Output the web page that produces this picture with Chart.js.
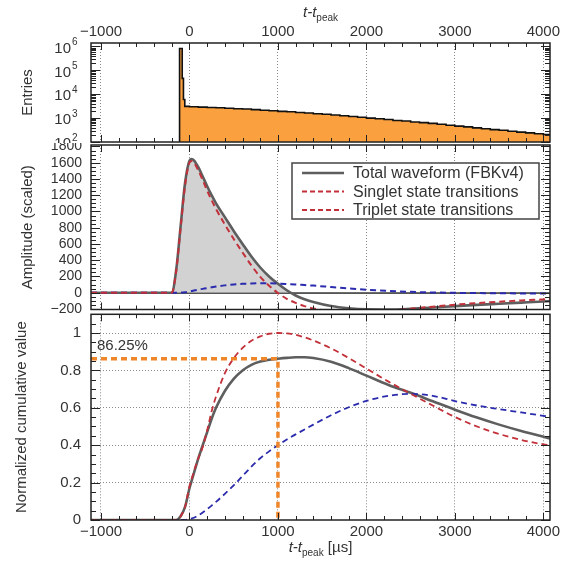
<!DOCTYPE html>
<html>
<head>
<meta charset="utf-8">
<script src="https://cdn.jsdelivr.net/npm/chart.js@4.4.1/dist/chart.umd.min.js"></script>
<style>
  body { margin: 0; background: #fff; }
  #wrap { position: relative; width: 562px; height: 573px; }
  canvas { position: absolute; left: 0; }
</style>
</head>
<body>
<div id="wrap">
  <canvas id="entries" width="562" height="143" style="top:0;width:562px;height:143px"></canvas>
  <canvas id="amplitude" width="562" height="170" style="top:143px;width:562px;height:170px"></canvas>
  <canvas id="cumulative" width="562" height="260" style="top:313px;width:562px;height:260px"></canvas>
</div>
<script>
// time axis shared by the three panels
const tMin = -1113, tMax = 4075;
const timeTicks = [-1000, 0, 1000, 2000, 3000, 4000];

// histogram of peak times (bin left edges, entries); 1 = empty bin below the axis floor
const histEdges = [-1113, -112, -82, -68, -53, 0, 100, 200, 300, 400, 500, 600, 700, 800, 900,
  1000, 1100, 1200, 1300, 1400, 1500, 1600, 1700, 1800, 1900, 2000, 2100, 2200, 2300, 2400,
  2500, 2600, 2700, 2800, 2900, 3000, 3100, 3200, 3300, 3400, 3500, 3600, 3700, 3800, 3900, 4000, 4075];
const histCounts = [1, 820000, 46000, 6000, 3100, 3000, 2900, 2780, 2700, 2600, 2480, 2400, 2280, 2150, 2050,
  1920, 1850, 1720, 1640, 1530, 1450, 1350, 1260, 1170, 1090, 1000, 940, 870, 800, 760,
  690, 650, 600, 550, 500, 460, 430, 390, 360, 330, 310, 280, 260, 240, 220, 205, 205];
const decades = [2, 3, 4, 5, 6];

// waveform samples
const sampleTime = [-1113, -200, -150, -100, -50, 0, 25, 50, 100, 150, 200, 250, 300, 400, 500, 600, 700, 800, 900,
  1000, 1100, 1200, 1300, 1400, 1600, 1800, 2000, 2250, 2500, 2750, 3000, 3250, 3500, 3750, 4000, 4075];
const totalAmp = [0, 0, 280, 820, 1350, 1625, 1645, 1630, 1545, 1430, 1310, 1200, 1100, 930, 760, 600, 445, 310, 200,
  110, 30, -35, -80, -115, -165, -192, -205, -207, -198, -183, -166, -150, -136, -122, -108, -104];
const singletAmp = [0, 0, 270, 800, 1320, 1600, 1620, 1600, 1505, 1385, 1255, 1140, 1030, 840, 660, 495, 335, 195, 85,
  -5, -75, -125, -165, -195, -232, -246, -242, -222, -198, -172, -148, -128, -111, -96, -83, -79];
const tripletAmp = [0, 0, 0, 1, 6, 15, 20, 26, 37, 47, 57, 66, 75, 90, 101, 109, 114, 116, 115,
  112, 107, 101, 94, 87, 70, 53, 37, 22, 10, 3, -2, -5, -7, -9, -10, -10];
const ampTicks = [-200, 0, 200, 400, 600, 800, 1000, 1200, 1400, 1600, 1800];

const totalCum = [0, 0, 0, 0.02, 0.07, 0.17, 0.21, 0.25, 0.33, 0.4, 0.47, 0.54, 0.6, 0.69, 0.755, 0.8, 0.83, 0.847, 0.857,
  0.8625, 0.867, 0.87, 0.87, 0.866, 0.846, 0.812, 0.772, 0.722, 0.68, 0.635, 0.59, 0.548, 0.51, 0.476, 0.445, 0.436];
const singletCum = [0, 0, 0, 0.02, 0.07, 0.18, 0.22, 0.26, 0.33, 0.39, 0.48, 0.58, 0.66, 0.785, 0.865, 0.92, 0.958, 0.982, 0.996,
  1.0, 0.998, 0.99, 0.977, 0.96, 0.918, 0.866, 0.81, 0.74, 0.675, 0.612, 0.551, 0.5, 0.46, 0.428, 0.405, 0.4];
const tripletCum = [0, 0, 0, 0, 0, 0.005, 0.008, 0.012, 0.025, 0.04, 0.058, 0.077, 0.097, 0.14, 0.185, 0.235, 0.285, 0.33, 0.367,
  0.4, 0.43, 0.458, 0.484, 0.51, 0.56, 0.603, 0.637, 0.664, 0.675, 0.664, 0.636, 0.612, 0.593, 0.575, 0.557, 0.551];
const cumTicks = [0, 0.2, 0.4, 0.6, 0.8, 1];

// fraction collected at the 1000 us cut
const cutTime = 1000;
const cutFraction = 0.8625;

const labels = ['Total waveform (FBKv4)', 'Singlet state transitions', 'Triplet state transitions'];

const GRAY = '#5e5e5e', RED = '#c2303a', BLUE = '#2b2bae', ORANGE = '#f0862a', TXT = '#333';

Chart.defaults.font.family = '"Liberation Sans", Arial, sans-serif';
Chart.defaults.color = TXT;
Chart.defaults.animation = false;
Chart.defaults.responsive = false;
Chart.defaults.elements.point.radius = 0;
Chart.defaults.plugins.legend.display = false;
Chart.defaults.plugins.tooltip.enabled = false;

const pts = (xs, ys) => xs.map((x, i) => ({ x: x, y: ys[i] }));
const minus = v => (v < 0 ? '\u2212' + Math.abs(v) : String(v));

// keep the plot frame where we put it: no extra room for overhanging tick labels
function noOverhang(s) {
  s.paddingTop = 0; s.paddingBottom = 0; s.paddingLeft = 0; s.paddingRight = 0;
}

function timeAxis(position, labelsOn, height, pad) {
  return {
    type: 'linear', position: position, min: tMin, max: tMax,
    afterBuildTicks: s => { s.ticks = timeTicks.map(v => ({ value: v })); },
    afterFit: s => { s.height = height; noOverhang(s); },
    grid: { color: '#8a8a8a', lineWidth: 1, drawTicks: false },
    border: { display: false, dash: [1, 2] },
    ticks: { display: labelsOn, autoSkip: false, maxRotation: 0, padding: pad, font: { size: 15 }, callback: v => minus(v) }
  };
}

// ROOT-like frame with inward ticks, plus log labels with raised exponents
const frameTicks = {
  id: 'frameTicks',
  afterDraw(chart, args, opts) {
    const { ctx, chartArea: a } = chart;
    const x = chart.scales.x, y = chart.scales.y;
    const marks = [];
    if (y.type === 'logarithmic') {
      for (let k = Math.floor(Math.log10(y.min)); k <= Math.ceil(Math.log10(y.max)); k++) {
        for (let m = 1; m < 10; m++) {
          const v = m * Math.pow(10, k);
          if (v >= y.min && v <= y.max) marks.push({ v: v, major: m === 1 });
        }
      }
    } else {
      const n0 = Math.ceil(y.min / opts.yMinor - 1e-9), n1 = Math.floor(y.max / opts.yMinor + 1e-9);
      for (let n = n0; n <= n1; n++) {
        const v = n * opts.yMinor;
        const r = v / opts.yMajor;
        marks.push({ v: v, major: Math.abs(r - Math.round(r)) < 1e-6 });
      }
    }
    ctx.save();
    ctx.strokeStyle = '#222';
    ctx.lineWidth = 1;
    ctx.beginPath();
    for (let v = Math.ceil(x.min / 200) * 200; v <= x.max; v += 200) {
      const px = Math.round(x.getPixelForValue(v)) + 0.5;
      const len = v % 1000 === 0 ? 7 : 4;
      ctx.moveTo(px, a.top); ctx.lineTo(px, a.top + len);
      ctx.moveTo(px, a.bottom); ctx.lineTo(px, a.bottom - len);
    }
    for (const t of marks) {
      const py = Math.round(y.getPixelForValue(t.v)) + 0.5;
      const len = t.major ? 9 : 5;
      ctx.moveTo(a.left, py); ctx.lineTo(a.left + len, py);
      ctx.moveTo(a.right, py); ctx.lineTo(a.right - len, py);
    }
    ctx.stroke();
    ctx.lineWidth = 1.5;
    ctx.strokeRect(a.left, a.top, a.right - a.left, a.bottom - a.top);

    if (y.type === 'logarithmic') {
      ctx.fillStyle = TXT;
      ctx.textBaseline = 'middle';
      for (const k of decades) {
        const py = y.getPixelForValue(Math.pow(10, k));
        ctx.font = '15px "Liberation Sans", Arial, sans-serif';
        ctx.textAlign = 'right';
        ctx.fillText('10', a.left - 20, py + 2);
        ctx.font = '10px "Liberation Sans", Arial, sans-serif';
        ctx.textAlign = 'left';
        ctx.fillText(String(k), a.left - 19, py - 4);
      }
    }
    ctx.restore();
  }
};

// italic t - t_peak axis caption
const timeTitle = {
  id: 'timeTitle',
  afterDraw(chart, args, opts) {
    if (opts.baseline === undefined) return;
    const { ctx, chartArea: a } = chart;
    const parts = [
      { s: 't-t', f: 'italic 15px "Liberation Sans", Arial, sans-serif', dy: 0 },
      { s: 'peak', f: '10px "Liberation Sans", Arial, sans-serif', dy: 4 }
    ];
    if (opts.unit) parts.push({ s: ' [\u00b5s]', f: '15px "Liberation Sans", Arial, sans-serif', dy: 0 });
    ctx.save();
    ctx.fillStyle = TXT;
    ctx.textAlign = 'left';
    ctx.textBaseline = 'alphabetic';
    let w = 0;
    for (const p of parts) { ctx.font = p.f; p.w = ctx.measureText(p.s).width; w += p.w; }
    let cx = (a.left + a.right) / 2 - w / 2;
    for (const p of parts) { ctx.font = p.f; ctx.fillText(p.s, cx, opts.baseline + p.dy); cx += p.w; }
    ctx.restore();
  }
};

// boxed legend inside the amplitude panel
const boxLegend = {
  id: 'boxLegend',
  afterDraw(chart, args, opts) {
    if (!opts.items) return;
    const { ctx, chartArea: a } = chart;
    const bx = a.left + opts.dx, by = a.top + opts.dy;
    ctx.save();
    ctx.fillStyle = '#fff';
    ctx.fillRect(bx, by, opts.w, opts.h);
    ctx.strokeStyle = '#444';
    ctx.lineWidth = 1.5;
    ctx.strokeRect(bx, by, opts.w, opts.h);
    ctx.font = '16px "Liberation Sans", Arial, sans-serif';
    ctx.textBaseline = 'middle';
    opts.items.forEach((it, i) => {
      const cy = by + 10 + i * 18.5;
      ctx.strokeStyle = it.color;
      ctx.lineWidth = it.width;
      ctx.setLineDash(it.dash);
      ctx.beginPath();
      ctx.moveTo(bx + 10, cy); ctx.lineTo(bx + 52, cy);
      ctx.stroke();
      ctx.setLineDash([]);
      ctx.fillStyle = TXT;
      ctx.fillText(it.label, bx + 61, cy + 1);
    });
    ctx.restore();
  }
};

// percentage note for the cut
const cutNote = {
  id: 'cutNote',
  afterDraw(chart, args, opts) {
    if (!opts.text) return;
    const { ctx, chartArea: a } = chart;
    ctx.save();
    ctx.fillStyle = TXT;
    ctx.font = '15px "Liberation Sans", Arial, sans-serif';
    ctx.textBaseline = 'alphabetic';
    ctx.fillText(opts.text, a.left + 6, a.top + 36);
    ctx.restore();
  }
};

Chart.register(frameTicks, timeTitle, boxLegend, cutNote);

new Chart(document.getElementById('entries'), {
  type: 'line',
  data: {
    datasets: [{
      data: pts(histEdges, histCounts),
      stepped: true,
      borderColor: '#111',
      borderWidth: 1.6,
      backgroundColor: '#fba03e',
      fill: 'start'
    }]
  },
  options: {
    layout: { padding: { left: 0, right: 12, top: 0, bottom: 1 } },
    scales: {
      x: timeAxis('top', true, 43, 2),
      y: {
        type: 'logarithmic', min: 100, max: 1.4e6,
        afterBuildTicks: s => { s.ticks = decades.map(k => ({ value: Math.pow(10, k) })); },
        afterFit: s => { s.width = 91; noOverhang(s); },
        grid: { display: false },
        border: { display: false },
        ticks: { display: false },
        title: { display: true, text: 'Entries', font: { size: 15 }, padding: { top: 19, bottom: 0 } }
      }
    },
    plugins: { timeTitle: { baseline: 17 } }
  }
});

new Chart(document.getElementById('amplitude'), {
  type: 'line',
  data: {
    datasets: [
      { label: labels[1], data: pts(sampleTime, singletAmp), borderColor: RED, borderWidth: 2, borderDash: [6, 4],
        cubicInterpolationMode: 'monotone', fill: false, order: 0 },
      { label: labels[2], data: pts(sampleTime, tripletAmp), borderColor: BLUE, borderWidth: 2, borderDash: [6, 4],
        cubicInterpolationMode: 'monotone', fill: false, order: 1 },
      { label: labels[0], data: pts(sampleTime, totalAmp), borderColor: GRAY, borderWidth: 2.6,
        cubicInterpolationMode: 'monotone', order: 2,
        fill: { target: { value: 0 }, above: '#d2d2d2', below: 'rgba(0,0,0,0)' } }
    ]
  },
  options: {
    layout: { padding: { left: 0, right: 12, top: 2, bottom: 3.5 } },
    scales: {
      x: timeAxis('bottom', false, 0, 0),
      y: {
        type: 'linear', min: -207, max: 1818,
        afterBuildTicks: s => { s.ticks = ampTicks.map(v => ({ value: v })); },
        afterFit: s => { s.width = 91; noOverhang(s); },
        grid: { drawTicks: false, color: c => (c.tick && c.tick.value === 0 ? '#555' : 'rgba(0,0,0,0)'), lineWidth: 2 },
        border: { display: false },
        ticks: { autoSkip: false, padding: 9, font: { size: 14 }, callback: v => minus(v) },
        title: { display: true, text: 'Amplitude (scaled)', font: { size: 15 }, padding: { top: 19, bottom: 0 } }
      }
    },
    plugins: {
      frameTicks: { yMinor: 50, yMajor: 200 },
      boxLegend: {
        dx: 201, dy: 18, w: 247, h: 56,
        items: [
          { label: labels[0], color: GRAY, width: 2.6, dash: [] },
          { label: labels[1], color: RED, width: 2, dash: [5, 3] },
          { label: labels[2], color: RED, width: 2, dash: [5, 3] }
        ]
      }
    }
  }
});

new Chart(document.getElementById('cumulative'), {
  type: 'line',
  data: {
    datasets: [
      { data: [{ x: tMin, y: cutFraction }, { x: cutTime, y: cutFraction }, { x: cutTime, y: 0 }],
        borderColor: ORANGE, borderWidth: 3.5, borderDash: [6, 4], fill: false, order: 0 },
      { data: pts(sampleTime, singletCum), borderColor: RED, borderWidth: 1.8, borderDash: [6, 4],
        cubicInterpolationMode: 'monotone', fill: false, order: 1 },
      { data: pts(sampleTime, tripletCum), borderColor: BLUE, borderWidth: 1.8, borderDash: [6, 4],
        cubicInterpolationMode: 'monotone', fill: false, order: 2 },
      { data: pts(sampleTime, totalCum), borderColor: GRAY, borderWidth: 2.6,
        cubicInterpolationMode: 'monotone', fill: false, order: 3 }
    ]
  },
  options: {
    layout: { padding: { left: 0, right: 12, top: 1.3, bottom: 0 } },
    scales: {
      x: timeAxis('bottom', true, 53, 3),
      y: {
        type: 'linear', min: 0, max: 1.1,
        afterBuildTicks: s => { s.ticks = cumTicks.map(v => ({ value: v })); },
        afterFit: s => { s.width = 91; noOverhang(s); },
        grid: { drawTicks: false, color: c => (c.tick && c.tick.value === 0 ? 'rgba(0,0,0,0)' : '#8a8a8a'), lineWidth: 1 },
        border: { display: false, dash: [1, 2] },
        ticks: { autoSkip: false, padding: 10, font: { size: 15 }, callback: v => String(v) },
        title: { display: true, text: 'Normalized cumulative value', font: { size: 15 }, padding: { top: 13, bottom: 0 } }
      }
    },
    plugins: {
      frameTicks: { yMinor: 0.05, yMajor: 0.2 },
      timeTitle: { baseline: 239, unit: true },
      cutNote: { text: (cutFraction * 100).toFixed(2) + '%' }
    }
  }
});
</script>
</body>
</html>
